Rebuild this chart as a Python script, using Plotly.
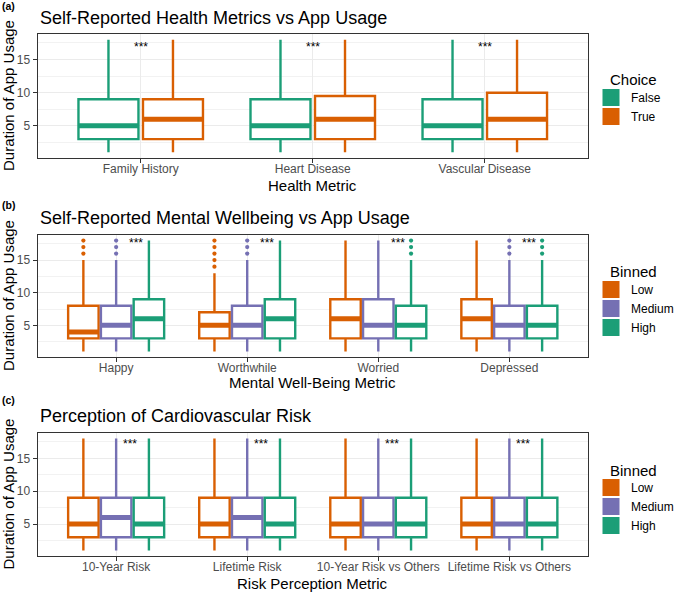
import plotly.graph_objects as go

# ---------------- data (per category: lower whisker, Q1, median, Q3, upper whisker) ----------------
A_CATS = ["Family History", "Heart Disease", "Vascular Disease"]
A_FALSE = [[1, 3, 5, 9, 18], [1, 3, 5, 9, 18], [1, 3, 5, 9, 18]]
A_TRUE = [[1, 3, 6, 9, 18], [1, 3, 6, 9.5, 18], [1, 3, 6, 10, 18]]

B_CATS = ["Happy", "Worthwhile", "Worried", "Depressed"]
B_LOW = [[1, 3, 4, 8, 15], [1, 3, 5, 7, 13], [1, 3, 6, 9, 18], [1, 3, 6, 9, 18]]
B_MED = [[1, 3, 5, 8, 15], [1, 3, 5, 8, 15], [1, 3, 5, 9, 18], [1, 3, 5, 8, 15]]
B_HIGH = [[1, 3, 6, 9, 18], [1, 3, 6, 9, 18], [1, 3, 5, 8, 15], [1, 3, 5, 8, 15]]
# outliers per category
B_LOW_OUT = [[16, 17, 18], [14, 15, 16, 17, 18], [], []]
B_MED_OUT = [[16, 17, 18], [16, 17, 18], [], [16, 17, 18]]
B_HIGH_OUT = [[], [], [16, 17, 18], [16, 17, 18]]

C_CATS = ["10-Year Risk", "Lifetime Risk", "10-Year Risk vs Others", "Lifetime Risk vs Others"]
C_LOW = [[1, 3, 5, 9, 18], [1, 3, 5, 9, 18], [1, 3, 5, 9, 18], [1, 3, 5, 9, 18]]
C_MED = [[1, 3, 6, 9, 18], [1, 3, 6, 9, 18], [1, 3, 5, 9, 18], [1, 3, 5, 9, 18]]
C_HIGH = [[1, 3, 5, 9, 18], [1, 3, 5, 9, 18], [1, 3, 5, 9, 18], [1, 3, 5, 9, 18]]

SIG_LABEL = "***"
Y_TICKS = [5, 10, 15]

# ---------------- styling ----------------
W, H = 675, 593
GREEN, ORANGE, PURPLE = "#1B9E77", "#D95F02", "#7570B3"
FONT = "Liberation Sans, Arial, Helvetica, sans-serif"
X0, X1 = 37.5, 588  # plot area left/right in px


def px_x(p):
    return p / W


def px_y(p):
    return 1 - p / H


panels = [
    dict(key="", label="(a)", title="Self-Reported Health Metrics vs App Usage",
         xtitle="Health Metric", legtitle="Choice", cats=A_CATS,
         top=34, bottom=158, label_y=6, title_y=18, xtitle_y=185, legtitle_y=80, leg_top=83,
         sig_anchor="center", sig_shift=0, sig_y=16.85,
         series=[("False", A_FALSE, None, GREEN), ("True", A_TRUE, None, ORANGE)]),
    dict(key="2", label="(b)", title="Self-Reported Mental Wellbeing vs App Usage",
         xtitle="Mental Well-Being Metric", legtitle="Binned", cats=B_CATS,
         top=235, bottom=357, label_y=205, title_y=218, xtitle_y=382, legtitle_y=271.5, leg_top=275,
         sig_anchor="left", sig_shift=11, sig_y=17.55,
         series=[("Low", B_LOW, B_LOW_OUT, ORANGE), ("Medium", B_MED, B_MED_OUT, PURPLE),
                 ("High", B_HIGH, B_HIGH_OUT, GREEN)]),
    dict(key="3", label="(c)", title="Perception of Cardiovascular Risk",
         xtitle="Risk Perception Metric", legtitle="Binned", cats=C_CATS,
         top=433, bottom=556, label_y=400, title_y=416, xtitle_y=583, legtitle_y=470, leg_top=473,
         sig_anchor="left", sig_shift=5, sig_y=17.2,
         series=[("Low", C_LOW, None, ORANGE), ("Medium", C_MED, None, PURPLE),
                 ("High", C_HIGH, None, GREEN)]),
]

fig = go.Figure()
annotations = []
layout = {}

for p in panels:
    k = p["key"]
    xa, ya = "x" + k, "y" + k
    leg = "legend" + k
    for name, stats, outs, color in p["series"]:
        lo = [s[0] for s in stats]
        q1 = [s[1] for s in stats]
        med = [s[2] for s in stats]
        q3 = [s[3] for s in stats]
        hi = [s[4] for s in stats]
        common = dict(name=name, offsetgroup=name, alignmentgroup="g" + k, whiskerwidth=0,
                      xaxis=xa, yaxis=ya, legend=leg, legendgroup=leg + name, hoverinfo="skip")
        fig.add_trace(go.Box(
            x=p["cats"], lowerfence=lo, q1=q1, median=med, q3=q3, upperfence=hi,
            line=dict(color=color, width=2.4), fillcolor="white", boxpoints=False,
            showlegend=False, **common))
        # thick median bar (ggplot style); also carries the legend key
        fig.add_trace(go.Box(
            x=p["cats"], lowerfence=med, q1=med, median=med, q3=med, upperfence=med,
            line=dict(color=color, width=5), fillcolor=color, boxpoints=False,
            showlegend=True, **common))
        if outs is not None:
            ox, oy = [], []
            for c, vals in zip(p["cats"], outs):
                ox += [c] * len(vals)
                oy += vals
            fig.add_trace(go.Box(
                x=ox, y=oy, boxpoints="all", pointpos=0, jitter=0,
                line=dict(color="rgba(0,0,0,0)", width=0), fillcolor="rgba(0,0,0,0)",
                marker=dict(color=color, size=4.2, line=dict(width=0)),
                showlegend=False, **common))

    n = len(p["cats"])
    layout["xaxis" + k] = dict(
        domain=[px_x(X0), px_x(X1)], anchor=ya, type="category",
        categoryorder="array", categoryarray=p["cats"], range=[-0.6, n - 0.4],
        showgrid=True, gridcolor="#EBEBEB", gridwidth=1,
        showline=True, linecolor="#333333", linewidth=1, mirror=True,
        ticks="outside", ticklen=4, tickcolor="#333333", tickwidth=1, automargin=False,
        ticklabelstandoff=-4,
        tickfont=dict(family=FONT, size=12, color="#4D4D4D"), zeroline=False,
    )
    layout["yaxis" + k] = dict(
        domain=[px_y(p["bottom"]), px_y(p["top"])], anchor=xa,
        range=[0.15, 18.85], tickvals=Y_TICKS, ticktext=[str(v) for v in Y_TICKS],
        showgrid=True, gridcolor="#EBEBEB", gridwidth=1,
        minor=dict(tickvals=[2.5, 7.5, 12.5, 17.5], showgrid=True, gridcolor="#F2F2F2", gridwidth=0.6, ticks=""),
        showline=True, linecolor="#333333", linewidth=1, mirror=True,
        ticks="outside", ticklen=4, tickcolor="#333333", tickwidth=1, automargin=False,
        tickfont=dict(family=FONT, size=12, color="#4D4D4D"), zeroline=False,
    )
    layout[leg] = dict(
        x=px_x(591), y=px_y(p["leg_top"]), xanchor="left", yanchor="top",
        font=dict(family=FONT, size=12, color="black"), bgcolor="rgba(0,0,0,0)",
        borderwidth=0, tracegroupgap=0,
    )

    # panel label, title, axis titles, legend title
    annotations += [
        dict(text="<b>%s</b>" % p["label"], x=0, y=px_y(p["label_y"]), xref="paper", yref="paper",
             xanchor="left", yanchor="middle", showarrow=False, font=dict(family=FONT, size=10.5, color="black")),
        dict(text=p["title"], x=px_x(X0), y=px_y(p["title_y"]), xref="paper", yref="paper",
             xanchor="left", yanchor="middle", showarrow=False, font=dict(family=FONT, size=18, color="black")),
        dict(text=p["xtitle"], x=px_x((X0 + X1) / 2), y=px_y(p["xtitle_y"]), xref="paper", yref="paper",
             xanchor="center", yanchor="middle", showarrow=False, font=dict(family=FONT, size=15, color="black")),
        dict(text="Duration of App Usage", x=px_x(8), y=px_y((p["top"] + p["bottom"]) / 2),
             xref="paper", yref="paper", textangle=-90, xanchor="center", yanchor="middle",
             showarrow=False, font=dict(family=FONT, size=15, color="black")),
        dict(text=p["legtitle"], x=px_x(608), y=px_y(p["legtitle_y"]), xref="paper", yref="paper",
             xanchor="left", yanchor="middle", showarrow=False, font=dict(family=FONT, size=15, color="black")),
    ]
    for c in p["cats"]:
        annotations.append(dict(
            text=SIG_LABEL, x=c, y=p["sig_y"], xref=xa, yref=ya, xanchor=p["sig_anchor"],
            xshift=p["sig_shift"], yanchor="middle", showarrow=False,
            font=dict(family=FONT, size=12, color="black")))

fig.update_layout(
    width=W, height=H, margin=dict(l=0, r=0, t=0, b=0, pad=0, autoexpand=False),
    paper_bgcolor="white", plot_bgcolor="white",
    boxmode="group", boxgap=0.25, boxgroupgap=0.07,
    annotations=annotations, **layout,
)

fig.write_html("out.html", config={"displayModeBar": False},
               post_script="document.body.style.margin='0px';document.body.style.overflow='hidden';")
